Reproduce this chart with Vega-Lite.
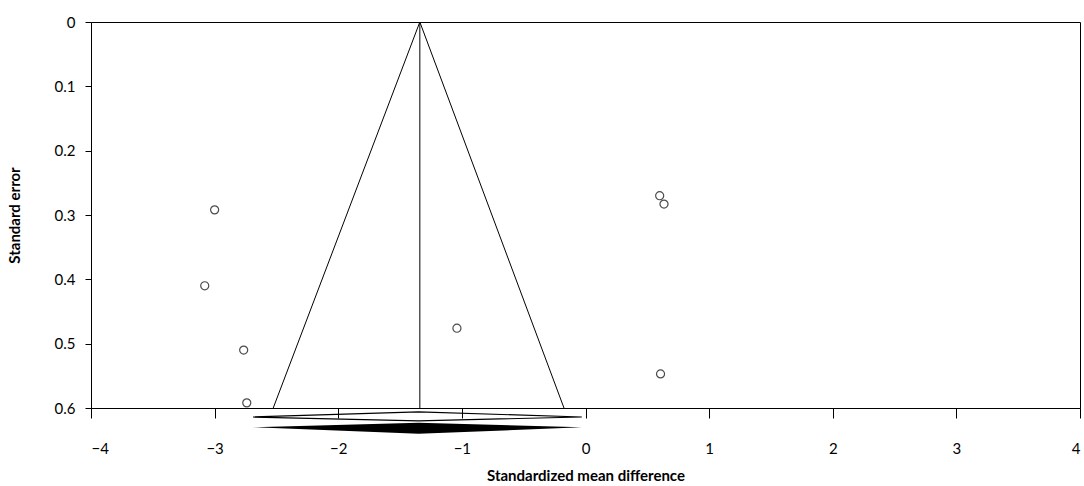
{
  "$schema": "https://vega.github.io/schema/vega-lite/v6.json",
  "width": 989,
  "height": 386,
  "autosize": "none",
  "padding": {"left": 91, "top": 22, "right": 4, "bottom": 78},
  "background": "white",
  "config": {
    "view": {"stroke": "black", "strokeWidth": 1},
    "font": "Lato",
    "axis": {"domainColor": "black", "tickColor": "black", "labelColor": "black", "titleColor": "black", "grid": false, "labelFont": "Lato", "titleFont": "Lato", "labelFontSize": 15, "titleFontSize": 15, "titleFontWeight": "bold"}
  },
  "datasets": {
    "studies": [
      {"smd": -3.0, "se": 0.292},
      {"smd": -3.08, "se": 0.41},
      {"smd": -2.765, "se": 0.51},
      {"smd": -2.74, "se": 0.592},
      {"smd": -1.04, "se": 0.476},
      {"smd": 0.6, "se": 0.27},
      {"smd": 0.635, "se": 0.283},
      {"smd": 0.607, "se": 0.547}
    ],
    "funnel": [
      {"x": -2.526, "y": 0.6, "o": 1},
      {"x": -1.34, "y": 0.0, "o": 2},
      {"x": -0.174, "y": 0.6, "o": 3}
    ],
    "centre": [
      {"x": -1.34, "y": 0.0, "y2": 0.6}
    ],
    "diamond1": [
      {"x": -2.69, "y": 0.614, "o": 1},
      {"x": -1.35, "y": 0.606, "o": 2},
      {"x": -0.03, "y": 0.614, "o": 3},
      {"x": -1.35, "y": 0.62, "o": 4},
      {"x": -2.69, "y": 0.614, "o": 5}
    ],
    "diamond2": [
      {"x": -2.69, "y": 0.63, "y2": 0.63},
      {"x": -1.35, "y": 0.623, "y2": 0.64},
      {"x": -0.03, "y": 0.63, "y2": 0.63}
    ]
  },
  "layer": [
    {
      "data": {"name": "funnel"},
      "mark": {"type": "line", "color": "black", "strokeWidth": 1},
      "encoding": {
        "x": {"field": "x", "type": "quantitative", "scale": {"domain": [-4, 4], "nice": false}, "axis": {"values": [-4, -3, -2, -1, 0, 1, 2, 3, 4], "format": "d", "tickSize": 10, "labelPadding": 23, "title": "Standardized mean difference", "titlePadding": 12}},
        "y": {"field": "y", "type": "quantitative", "scale": {"domain": [0, 0.6], "reverse": true, "nice": false, "zero": false}, "axis": {"values": [0, 0.1, 0.2, 0.3, 0.4, 0.5, 0.6], "format": ".1~f", "tickSize": 6, "labelPadding": 10, "title": "Standard error", "titlePadding": 32}},
        "order": {"field": "o"}
      }
    },
    {
      "data": {"name": "centre"},
      "mark": {"type": "rule", "color": "black", "strokeWidth": 1},
      "encoding": {
        "x": {"field": "x", "type": "quantitative"},
        "y": {"field": "y", "type": "quantitative"},
        "y2": {"field": "y2"}
      }
    },
    {
      "data": {"name": "studies"},
      "mark": {"type": "point", "shape": "circle", "filled": false, "color": "black", "strokeWidth": 1.2, "size": 65},
      "encoding": {
        "x": {"field": "smd", "type": "quantitative"},
        "y": {"field": "se", "type": "quantitative"}
      }
    },
    {
      "data": {"name": "diamond1"},
      "mark": {"type": "line", "color": "black", "strokeWidth": 1.2, "clip": false},
      "encoding": {
        "x": {"field": "x", "type": "quantitative"},
        "y": {"field": "y", "type": "quantitative"},
        "order": {"field": "o"}
      }
    },
    {
      "data": {"name": "diamond2"},
      "mark": {"type": "area", "color": "black", "clip": false, "orient": "vertical"},
      "encoding": {
        "x": {"field": "x", "type": "quantitative"},
        "y": {"field": "y", "type": "quantitative"},
        "y2": {"field": "y2"}
      }
    }
  ]
}
